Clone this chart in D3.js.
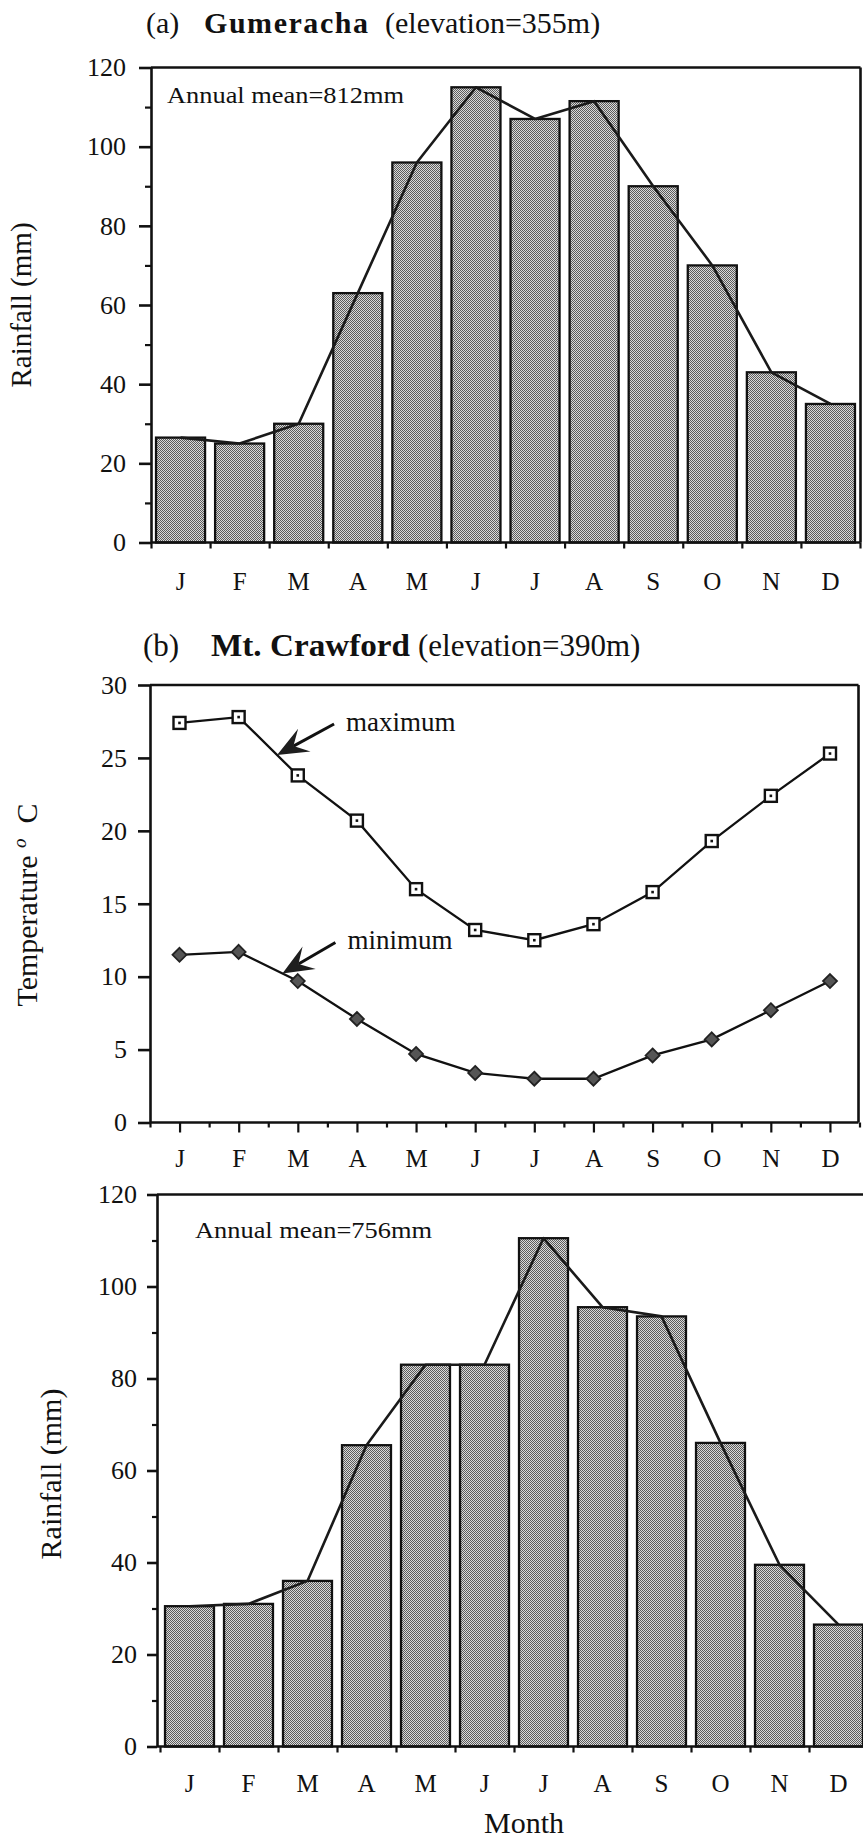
<!DOCTYPE html>
<html>
<head>
<meta charset="utf-8">
<script src="https://cdn.jsdelivr.net/npm/d3@7"></script>
<style>
  body { margin: 0; background: #fff; }
  svg { display: block; }
</style>
</head>
<body>
<svg id="fig" width="863" height="1838"></svg>
<script>
// Month initials along the x axes
const months = ["J", "F", "M", "A", "M", "J", "J", "A", "S", "O", "N", "D"];

// Monthly rainfall (mm)
const gumerachaRain = [26.5, 25, 30, 63, 96, 115, 107, 111.5, 90, 70, 43, 35];
const crawfordRain  = [30.5, 31, 36, 65.5, 83, 83, 110.5, 95.5, 93.5, 66, 39.5, 26.5];

// Mt. Crawford monthly temperatures (deg C)
const crawfordTmax = [27.4, 27.8, 23.8, 20.7, 16.0, 13.2, 12.5, 13.6, 15.8, 19.3, 22.4, 25.3];
const crawfordTmin = [11.5, 11.7, 9.7, 7.1, 4.7, 3.4, 3.0, 3.0, 4.6, 5.7, 7.7, 9.7];

// Axis ticks
const rainTicks = [0, 20, 40, 60, 80, 100, 120];
const rainMinorTicks = [10, 30, 50, 70, 90, 110];
const tempTicks = [0, 5, 10, 15, 20, 25, 30];

const SERIF = "'Liberation Serif', 'Times New Roman', Tinos, 'DejaVu Serif', serif";
const ink = "#111";

const svg = d3.select("#fig")
  .attr("font-family", SERIF)
  .style("font-family", SERIF);

// Halftone fill for the rainfall bars
const defs = svg.append("defs");
const pat = defs.append("pattern")
  .attr("id", "halftone")
  .attr("width", 2).attr("height", 2)
  .attr("patternUnits", "userSpaceOnUse");
pat.append("rect").attr("width", 2).attr("height", 2).attr("fill", "#dadada");
pat.append("rect").attr("width", 1).attr("height", 1).attr("fill", "#5c5c5c");
pat.append("rect").attr("x", 1).attr("y", 1).attr("width", 1).attr("height", 1).attr("fill", "#5c5c5c");

function styleAxis(g, width, size) {
  g.attr("font-family", SERIF).style("font-family", SERIF);
  if (size) g.attr("font-size", size);
  g.selectAll("path, line").attr("stroke", ink).attr("stroke-width", width);
  g.selectAll("text").attr("fill", ink).style("font-family", SERIF);
}

function label(x, y, size, str) {
  return svg.append("text")
    .attr("x", x).attr("y", y)
    .attr("font-size", size)
    .attr("fill", ink)
    .style("font-family", SERIF)
    .text(str);
}

function rotatedTitle(x, y, size, str) {
  return svg.append("text")
    .attr("transform", `translate(${x},${y}) rotate(-90)`)
    .attr("text-anchor", "middle")
    .attr("font-size", size)
    .attr("fill", ink)
    .style("font-family", SERIF)
    .text(str);
}

// Rainfall panel: bars + line through the bar tops, framed box
function rainPanel(opt) {
  const g = svg.append("g");
  const idx = d3.range(months.length);
  const x = d3.scaleBand().domain(idx).range(opt.xRange).paddingInner(0.17).paddingOuter(0.085);
  const edges = d3.scaleLinear().domain([0, 12]).range(opt.xRange);
  const y = d3.scaleLinear().domain([0, 120]).range(opt.yRange);

  // bars
  g.append("g").selectAll("rect")
    .data(opt.values)
    .join("rect")
    .attr("x", (d, i) => x(i))
    .attr("width", x.bandwidth())
    .attr("y", d => y(d))
    .attr("height", d => y(0) - y(d))
    .attr("fill", "url(#halftone)")
    .attr("stroke", ink)
    .attr("stroke-width", 2.3);

  // line through the monthly values
  const line = d3.line().x((d, i) => x(i) + x.bandwidth() / 2).y(d => y(d));
  g.append("path")
    .datum(opt.values)
    .attr("d", line)
    .attr("fill", "none")
    .attr("stroke", "#1a1a1a")
    .attr("stroke-width", 2.6)
    .attr("stroke-linejoin", "round");

  // frame: top and right edges
  g.append("line")
    .attr("x1", opt.axisX).attr("x2", opt.right)
    .attr("y1", y(120)).attr("y2", y(120))
    .attr("stroke", ink).attr("stroke-width", 2.6);
  g.append("line")
    .attr("x1", opt.right).attr("x2", opt.right)
    .attr("y1", y(120)).attr("y2", y(0))
    .attr("stroke", ink).attr("stroke-width", 2.6);

  // left axis
  const yAxis = g.append("g")
    .attr("transform", `translate(${opt.axisX},0)`)
    .call(d3.axisLeft(y).tickValues(rainTicks).tickSize(opt.tickLen).tickSizeOuter(0).tickPadding(opt.labelPad));
  styleAxis(yAxis, 2.6, 26);
  const yMinor = g.append("g")
    .attr("transform", `translate(${opt.axisX},0)`)
    .call(d3.axisLeft(y).tickValues(rainMinorTicks).tickSize(opt.tickLen / 2).tickFormat(""));
  yMinor.select(".domain").remove();
  styleAxis(yMinor, 2.2);

  // bottom axis: base line, ticks between months, month initials
  g.append("line")
    .attr("x1", opt.axisX).attr("x2", opt.right)
    .attr("y1", y(0)).attr("y2", y(0))
    .attr("stroke", ink).attr("stroke-width", 2.6);
  const xTicks = g.append("g")
    .attr("transform", `translate(0,${y(0)})`)
    .call(d3.axisBottom(edges).tickValues(d3.range(13)).tickSize(6).tickFormat(""));
  xTicks.select(".domain").remove();
  styleAxis(xTicks, 2.2);
  const xLabels = g.append("g")
    .attr("transform", `translate(0,${y(0)})`)
    .call(d3.axisBottom(x).tickSize(0).tickPadding(opt.monthPad).tickFormat(i => months[i]));
  xLabels.select(".domain").remove();
  styleAxis(xLabels, 0, 25);

  // annual mean note
  label(opt.meanX, opt.meanY, 24, opt.meanLabel)
    .attr("textLength", 237).attr("lengthAdjust", "spacingAndGlyphs");

  return { x, y };
}

// ---------- (a) Gumeracha ----------
const titleA = label(0, 33, 30, null);
titleA.append("tspan").attr("x", 146).text("(a)");
titleA.append("tspan").attr("x", 204).attr("font-weight", "bold")
  .attr("textLength", 164).attr("lengthAdjust", "spacing").text("Gumeracha");
titleA.append("tspan").attr("x", 385).text("(elevation=355m)");

rainPanel({
  values: gumerachaRain,
  xRange: [151, 860],
  axisX: 151,
  right: 860.5,
  yRange: [542.5, 67.5],
  tickLen: 12,
  labelPad: 13,
  monthPad: 30,
  meanX: 167, meanY: 103,
  meanLabel: "Annual mean=812mm"
});
rotatedTitle(31, 305, 29, "Rainfall (mm)");

// ---------- (b) Mt. Crawford temperature ----------
const titleB = label(0, 656, 31, null);
titleB.append("tspan").attr("x", 143).text("(b)");
titleB.append("tspan").attr("x", 211).attr("font-weight", "bold")
  .attr("textLength", 199).attr("lengthAdjust", "spacingAndGlyphs").text("Mt. Crawford");
titleB.append("tspan").attr("x", 418).text("(elevation=390m)");

(function tempPanel() {
  const g = svg.append("g");
  const idx = d3.range(months.length);
  const axisX = 150, right = 858.5;
  const x = d3.scalePoint().domain(idx).range([179.5, 830]);
  const edges = d3.scaleLinear().domain([0, 12]).range([150, 859.5]);
  const y = d3.scaleLinear().domain([0, 30]).range([1122.5, 685]);

  // frame
  g.append("line").attr("x1", axisX).attr("x2", right).attr("y1", y(30)).attr("y2", y(30))
    .attr("stroke", ink).attr("stroke-width", 2.6);
  g.append("line").attr("x1", right).attr("x2", right).attr("y1", y(30)).attr("y2", y(0))
    .attr("stroke", ink).attr("stroke-width", 2.6);

  const yAxis = g.append("g")
    .attr("transform", `translate(${axisX},0)`)
    .call(d3.axisLeft(y).tickValues(tempTicks).tickSize(12).tickSizeOuter(0).tickPadding(11));
  styleAxis(yAxis, 2.6, 26);

  g.append("line").attr("x1", axisX).attr("x2", right).attr("y1", y(0)).attr("y2", y(0))
    .attr("stroke", ink).attr("stroke-width", 2.6);
  const major = g.append("g").attr("transform", `translate(0,${y(0)})`)
    .call(d3.axisBottom(edges).tickValues(idx.map(i => i + 0.5)).tickSize(10).tickFormat(""));
  major.select(".domain").remove();
  styleAxis(major, 2.2);
  const minor = g.append("g").attr("transform", `translate(0,${y(0)})`)
    .call(d3.axisBottom(edges).tickValues(d3.range(13)).tickSize(5).tickFormat(""));
  minor.select(".domain").remove();
  styleAxis(minor, 2.2);
  const labels = g.append("g").attr("transform", `translate(0,${y(0)})`)
    .call(d3.axisBottom(x).tickSize(0).tickPadding(27).tickFormat(i => months[i]));
  labels.select(".domain").remove();
  styleAxis(labels, 0, 25);

  const line = d3.line().x((d, i) => x(i)).y(d => y(d));
  g.append("path").datum(crawfordTmax).attr("d", line)
    .attr("fill", "none").attr("stroke", ink).attr("stroke-width", 2.3);
  g.append("path").datum(crawfordTmin).attr("d", line)
    .attr("fill", "none").attr("stroke", ink).attr("stroke-width", 2.3);

  // maximum: open squares with a centre dot
  const sq = g.append("g").selectAll("g").data(crawfordTmax).join("g")
    .attr("transform", (d, i) => `translate(${x(i)},${y(d)})`);
  sq.append("rect").attr("x", -6).attr("y", -6).attr("width", 12).attr("height", 12)
    .attr("fill", "#fff").attr("stroke", ink).attr("stroke-width", 2.4);
  sq.append("rect").attr("x", -1.3).attr("y", -1.3).attr("width", 2.6).attr("height", 2.6).attr("fill", ink);

  // minimum: filled diamonds
  g.append("g").selectAll("path").data(crawfordTmin).join("path")
    .attr("transform", (d, i) => `translate(${x(i)},${y(d)})`)
    .attr("d", "M0,-7L7,0L0,7L-7,0Z")
    .attr("fill", "#555").attr("stroke", "#222").attr("stroke-width", 1.8);

  // callout arrows pointing at the Feb-Mar segments
  function callout(series, t, dx, dy, str) {
    const tip = [x(1) + t * (x(2) - x(1)), y(series[1]) + t * (y(series[2]) - y(series[1]))];
    const tail = [tip[0] + dx, tip[1] + dy];
    const len = Math.hypot(dx, dy);
    const d = [dx / len, dy / len], n = [-d[1], d[0]];
    const L = 31, W = 13;
    const b1 = [tip[0] + L * d[0] + W * n[0], tip[1] + L * d[1] + W * n[1]];
    const b2 = [tip[0] + L * d[0] - W * n[0], tip[1] + L * d[1] - W * n[1]];
    const notch = [tip[0] + 0.6 * L * d[0], tip[1] + 0.6 * L * d[1]];
    g.append("line").attr("x1", notch[0]).attr("y1", notch[1]).attr("x2", tail[0]).attr("y2", tail[1])
      .attr("stroke", ink).attr("stroke-width", 3);
    g.append("path").attr("d", `M${tip}L${b1}L${notch}L${b2}Z`).attr("fill", "#1e1e1e");
    label(tail[0] + 12, tail[1] + 7, 27, str);
  }
  callout(crawfordTmax, 0.65, 57, -31, "maximum");
  callout(crawfordTmin, 0.74, 53, -31, "minimum");

  // y title with degree mark
  const tt = rotatedTitle(37, 905, 30, null);
  tt.append("tspan").text("Temperature ");
  tt.append("tspan").attr("font-style", "italic").attr("font-size", 19).attr("dy", -11).text("o");
  tt.append("tspan").attr("dy", 11).text("\u2002C");
})();

// ---------- Mt. Crawford rainfall ----------
rainPanel({
  values: crawfordRain,
  xRange: [160, 868],
  axisX: 157,
  right: 868,
  yRange: [1746.5, 1194.5],
  tickLen: 10,
  labelPad: 10,
  monthPad: 28,
  meanX: 195, meanY: 1238,
  meanLabel: "Annual mean=756mm"
});
rotatedTitle(61, 1474, 30, "Rainfall (mm)");

label(524, 1833, 30, "Month").attr("text-anchor", "middle");
</script>
</body>
</html>
